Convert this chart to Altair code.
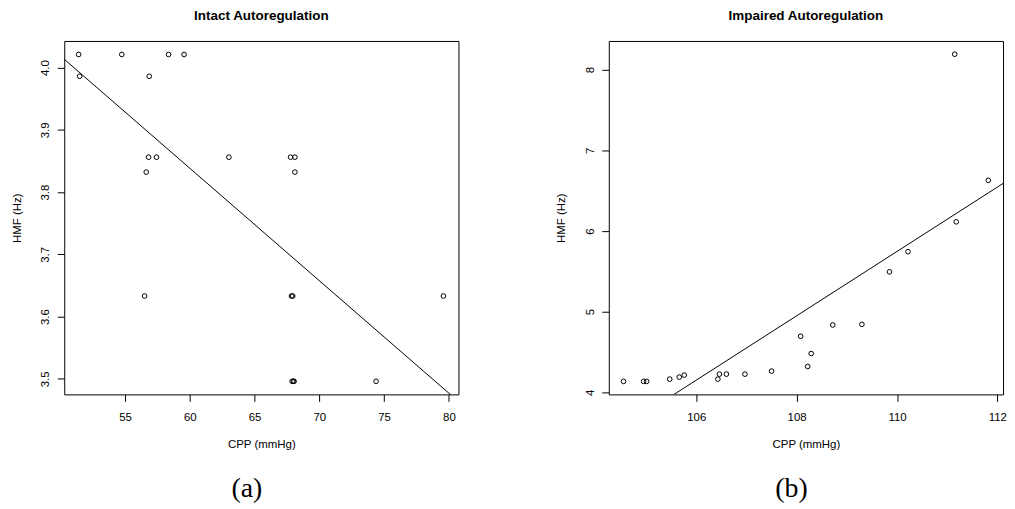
import altair as alt
import pandas as pd

# ---- data ----
intact_cpp = [51.42, 51.50, 54.75, 56.87, 58.36, 59.56, 56.82, 57.43, 56.64, 63.02,
              67.78, 68.11, 68.11, 56.51, 67.85, 67.95, 79.58, 67.90, 68.00, 68.05, 74.38]
intact_hmf = [4.021, 3.986, 4.021, 3.986, 4.021, 4.021, 3.856, 3.856, 3.832, 3.856,
              3.856, 3.856, 3.832, 3.633, 3.633, 3.633, 3.633, 3.496, 3.496, 3.496, 3.496]

impaired_cpp = [111.15, 111.82, 111.18, 110.22, 109.85, 109.30, 108.72, 108.08, 108.29, 108.22,
                107.50, 106.97, 106.60, 106.46, 106.43, 105.76, 105.66, 105.47, 105.01, 104.95, 104.55]
impaired_hmf = [8.19, 6.627, 6.113, 5.743, 5.493, 4.843, 4.835, 4.695, 4.481, 4.321,
                4.263, 4.226, 4.226, 4.226, 4.164, 4.214, 4.189, 4.164, 4.136, 4.136, 4.136]

# regression lines (intercept, slope)
intact_fit = (4.9225, -0.01807)
impaired_fit = (-38.10, 0.3986)

intact_xdom = [50.31, 80.74]
intact_ydom = [3.475, 4.0427]
impaired_xdom = [104.256, 112.113]
impaired_ydom = [3.975, 8.354]

intact_xticks = [55, 60, 65, 70, 75, 80]
intact_yticks = [3.5, 3.6, 3.7, 3.8, 3.9, 4.0]
impaired_xticks = [106, 108, 110, 112]
impaired_yticks = [4, 5, 6, 7, 8]

titles = ["Intact Autoregulation", "Impaired Autoregulation"]
panel_labels = ["(a)", "(b)"]

FONT = "Liberation Sans"
W, H = 396, 355


def panel(xs, ys, fit, xdom, ydom, xticks, yticks, yfmt, title, label):
    pts = pd.DataFrame({"CPP": xs, "HMF": ys})
    a, b = fit
    line_df = pd.DataFrame({"CPP": xdom, "HMF": [a + b * v for v in xdom]})
    xscale = alt.Scale(domain=xdom, nice=False, zero=False)
    yscale = alt.Scale(domain=ydom, nice=False, zero=False)
    xaxis = alt.Axis(values=xticks, title="CPP (mmHg)", grid=False, domain=False,
                     tickSize=7, tickColor="black", tickWidth=1,
                     labelFont=FONT, labelFontSize=11.5, labelColor="black",
                     labelPadding=10, labelBaseline="top",
                     titleFont=FONT, titleFontSize=11.5, titleFontWeight="normal",
                     titleColor="black", titleY=50, titleBaseline="middle")
    yaxis = alt.Axis(values=yticks, format=yfmt, title="HMF (Hz)", grid=False, domain=False,
                     tickSize=7, tickColor="black", tickWidth=1,
                     labelFont=FONT, labelFontSize=11.5, labelColor="black",
                     labelAngle=270, labelAlign="center", labelBaseline="bottom",
                     labelPadding=6.5,
                     titleFont=FONT, titleFontSize=11.5, titleFontWeight="normal",
                     titleColor="black", titleX=-47.3, titleBaseline="middle")
    points = alt.Chart(pts).mark_point(shape="circle", filled=False, color="black",
                                       size=22, strokeWidth=1, opacity=1).encode(
        x=alt.X("CPP:Q", scale=xscale, axis=xaxis),
        y=alt.Y("HMF:Q", scale=yscale, axis=yaxis),
    )
    line = alt.Chart(line_df).mark_line(color="black", strokeWidth=1, clip=True).encode(
        x=alt.X("CPP:Q", scale=xscale),
        y=alt.Y("HMF:Q", scale=yscale),
    )
    lab = alt.Chart(pd.DataFrame({"label": [label]})).mark_text(
        font="Liberation Serif", fontSize=28, color="black",
        align="center", baseline="middle").encode(
        text="label:N", x=alt.value(183.5), y=alt.value(450.4))
    return alt.layer(points, line, lab).properties(
        width=W, height=H,
        title=alt.TitleParams(text=title, font=FONT, fontSize=13.5, fontWeight="bold",
                              color="black", anchor="middle", baseline="bottom", offset=4.4),
    )


left = panel(intact_cpp, intact_hmf, intact_fit, intact_xdom, intact_ydom,
             intact_xticks, intact_yticks, ".1f", titles[0], panel_labels[0])
right = panel(impaired_cpp, impaired_hmf, impaired_fit, impaired_xdom, impaired_ydom,
              impaired_xticks, impaired_yticks, "d", titles[1], panel_labels[1])

chart = alt.hconcat(left, right, spacing=151, bounds="flush").properties(
    padding={"left": 2.5, "top": -1, "right": 0, "bottom": 0},
    background="white",
).configure_view(stroke="black", strokeWidth=1)

chart.save("out.html", embed_options={"renderer": "svg", "actions": False})
